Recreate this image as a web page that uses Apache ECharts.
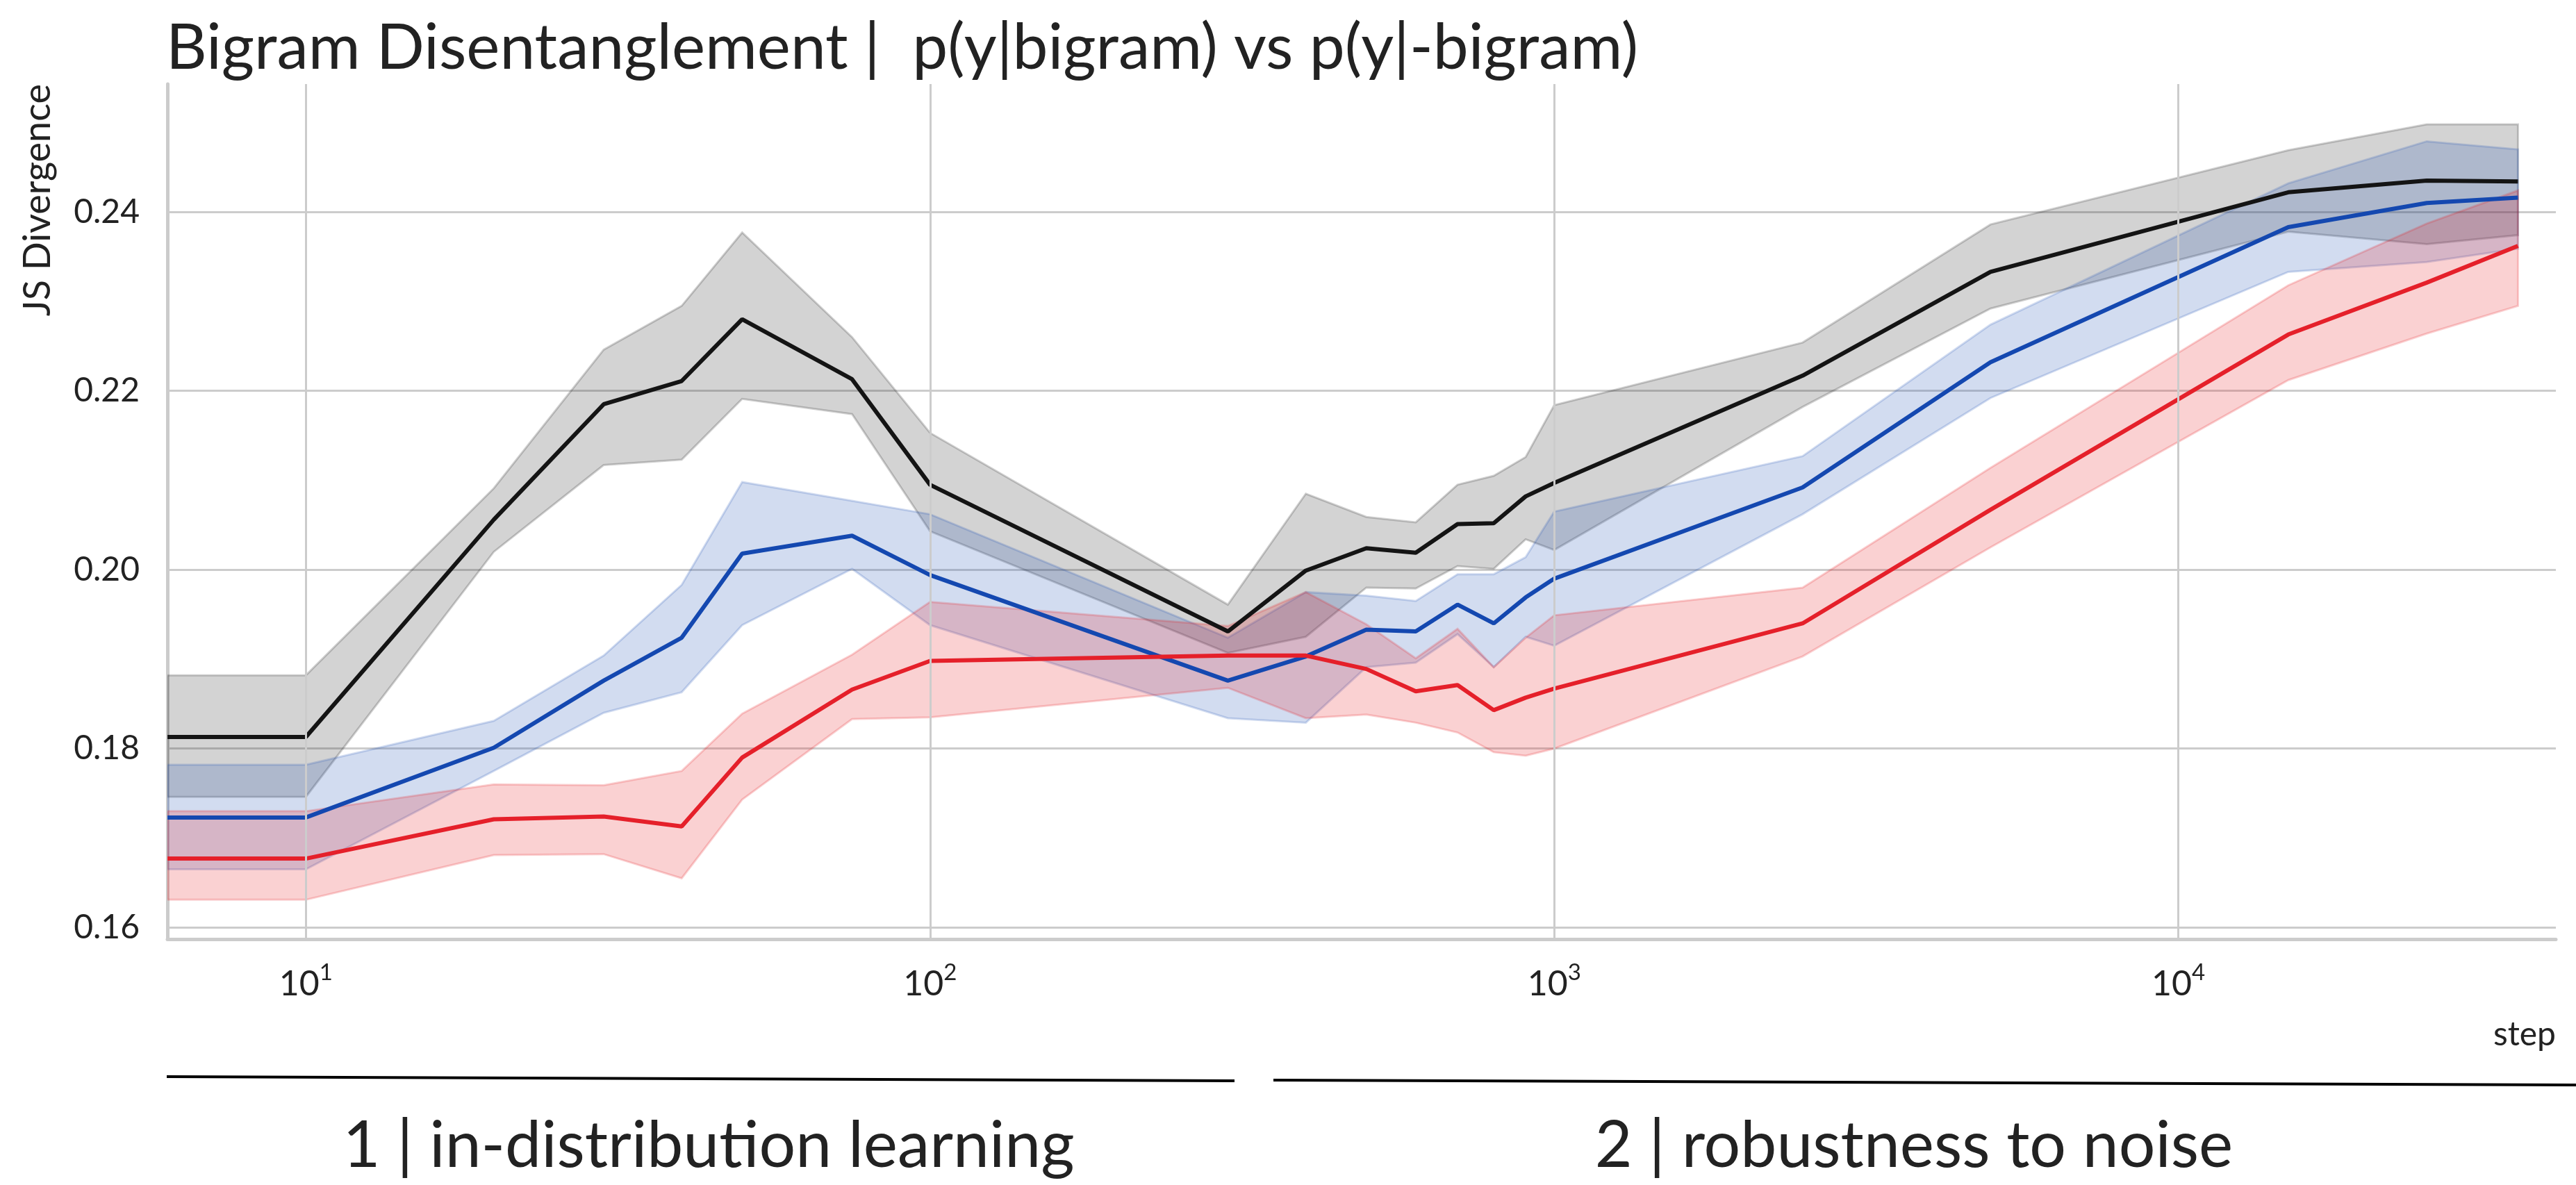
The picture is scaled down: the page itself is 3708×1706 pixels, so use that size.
<!DOCTYPE html>
<html>
<head>
<meta charset="utf-8">
<script src="https://cdn.jsdelivr.net/npm/echarts@6/dist/echarts.min.js"></script>
<style>
html,body{margin:0;padding:0;background:#fff;}
#chart{width:3708px;height:1706px;}
</style>
</head>
<body>
<div id="chart"></div>
<script>
// ---- data ----
const steps = [6, 10, 20, 30, 40, 50, 75, 100, 300, 400, 500, 600, 700, 800, 900, 1000, 2500, 5000, 15000, 25000, 35000];

const blackMean = [0.1813, 0.1813, 0.2056, 0.2185, 0.2211, 0.2280, 0.2213, 0.2095, 0.1931, 0.1999, 0.2024, 0.2019, 0.2051, 0.2052, 0.2082, 0.2097, 0.2217, 0.2333, 0.2422, 0.2435, 0.2434];
const blackLo   = [0.1746, 0.1746, 0.2020, 0.2117, 0.2123, 0.2191, 0.2174, 0.2043, 0.1907, 0.1925, 0.1980, 0.1979, 0.2004, 0.2001, 0.2034, 0.2022, 0.2182, 0.2292, 0.2378, 0.2364, 0.2374];
const blackHi   = [0.1882, 0.1882, 0.2091, 0.2246, 0.2295, 0.2377, 0.2260, 0.2153, 0.1961, 0.2085, 0.2059, 0.2053, 0.2095, 0.2105, 0.2126, 0.2184, 0.2254, 0.2386, 0.2469, 0.2498, 0.2498];

const blueMean = [0.1723, 0.1723, 0.1801, 0.1876, 0.1924, 0.2018, 0.2038, 0.1994, 0.1876, 0.1903, 0.1933, 0.1931, 0.1961, 0.1940, 0.1969, 0.1990, 0.2092, 0.2232, 0.2383, 0.2410, 0.2416];
const blueLo   = [0.1665, 0.1665, 0.1775, 0.1840, 0.1863, 0.1938, 0.2001, 0.1938, 0.1834, 0.1829, 0.1891, 0.1896, 0.1928, 0.1891, 0.1925, 0.1915, 0.2062, 0.2192, 0.2333, 0.2344, 0.2359];
const blueHi   = [0.1782, 0.1782, 0.1831, 0.1904, 0.1983, 0.2098, 0.2077, 0.2062, 0.1924, 0.1975, 0.1971, 0.1965, 0.1995, 0.1995, 0.2014, 0.2065, 0.2127, 0.2274, 0.2432, 0.2479, 0.2470];

const redMean = [0.1677, 0.1677, 0.1721, 0.1724, 0.1713, 0.1790, 0.1866, 0.1898, 0.1904, 0.1904, 0.1889, 0.1864, 0.1871, 0.1843, 0.1857, 0.1867, 0.1940, 0.2067, 0.2263, 0.2321, 0.2362];
const redLo   = [0.1631, 0.1631, 0.1681, 0.1682, 0.1655, 0.1743, 0.1833, 0.1835, 0.1868, 0.1834, 0.1838, 0.1829, 0.1818, 0.1796, 0.1792, 0.1800, 0.1903, 0.2025, 0.2212, 0.2264, 0.2295];
const redHi   = [0.1730, 0.1730, 0.1760, 0.1759, 0.1775, 0.1839, 0.1905, 0.1964, 0.1937, 0.1975, 0.1939, 0.1901, 0.1934, 0.1891, 0.1924, 0.1949, 0.1980, 0.2114, 0.2318, 0.2387, 0.2424];

const xDecades = [10, 100, 1000, 10000];
const titleText = 'Bigram Disentanglement |  p(y|bigram) vs p(y|-bigram)';
const yName = 'JS Divergence';
const xName = 'step';
const phase1 = '1 | in-distribution learning';
const phase2 = '2 | robustness to noise';

// ---- chart ----
const FONT = 'Lato';
const chart = echarts.init(document.getElementById('chart'), null, {renderer: 'canvas'});

function band(lo, hi, rgb, alpha) {
  return {
    type: 'custom',
    coordinateSystem: 'cartesian2d',
    clip: true,
    silent: true,
    z: 1,
    data: steps.map((s, i) => [s, lo[i], hi[i]]),
    encode: {x: 0, y: [1, 2]},
    renderItem: function (params, api) {
      if (params.dataIndex !== 0) return null;
      const top = [], bot = [];
      for (let i = 0; i < steps.length; i++) {
        top.push(api.coord([steps[i], hi[i]]));
        bot.push(api.coord([steps[i], lo[i]]));
      }
      return {
        type: 'polygon',
        shape: {points: top.concat(bot.reverse())},
        style: {fill: 'rgba(' + rgb + ',' + alpha + ')', stroke: 'rgba(' + rgb + ',0.2)', lineWidth: 3}
      };
    }
  };
}

function meanLine(vals, color) {
  return {
    type: 'line',
    data: steps.map((s, i) => [s, vals[i]]),
    showSymbol: false,
    symbol: 'none',
    silent: true,
    z: 3,
    lineStyle: {color: color, width: 6},
    itemStyle: {color: color}
  };
}

const option = {
  animation: false,
  backgroundColor: '#ffffff',
  grid: {left: 241, right: 29, top: 121, bottom: 354, containLabel: false},
  xAxis: {
    type: 'log',
    logBase: 10,
    min: 6,
    max: 40250,
    axisLine: {show: true, lineStyle: {color: '#cccccc', width: 5}},
    axisTick: {show: false},
    splitLine: {show: false},
    axisLabel: {
      margin: 32,
      showMinLabel: false,
      showMaxLabel: false,
      formatter: function (v) {
        const l = Math.log10(v);
        const e = Math.round(l);
        if (Math.abs(l - e) < 1e-6) return '{b|10}{s|' + e + '}';
        return '';
      },
      rich: {
        b: {fontSize: 50, fontFamily: FONT, color: '#222222', lineHeight: 58, verticalAlign: 'bottom'},
        s: {fontSize: 33, fontFamily: FONT, color: '#222222', lineHeight: 33, verticalAlign: 'top'}
      }
    }
  },
  yAxis: {
    type: 'value',
    min: 0.1587,
    max: 0.2543,
    axisLine: {show: true, lineStyle: {color: '#cccccc', width: 5}},
    axisTick: {show: false},
    splitLine: {show: true, showMinLine: false, showMaxLine: false, lineStyle: {color: '#cccccc', width: 3}},
    axisLabel: {
      margin: 40,
      showMinLabel: false,
      showMaxLabel: false,
      fontSize: 48,
      fontFamily: FONT,
      color: '#222222',
      formatter: function (v) { return v.toFixed(2); }
    }
  },
  series: [
    {
      type: 'line',
      data: [],
      silent: true,
      z: 0,
      markLine: {
        silent: true,
        symbol: ['none', 'none'],
        label: {show: false},
        animation: false,
        lineStyle: {color: '#cccccc', width: 3, type: 'solid'},
        emphasis: {disabled: true},
        data: xDecades.map(d => ({xAxis: d}))
      }
    },
    band(blackLo, blackHi, '20,20,20', 0.19),
    band(blueLo, blueHi, '31,79,180', 0.2),
    band(redLo, redHi, '228,26,28', 0.2),
    meanLine(blackMean, '#141414'),
    meanLine(blueMean, '#1448b0'),
    meanLine(redMean, '#e5202a')
  ],
  graphic: [
    {type: 'text', x: 239, y: 70, style: {text: titleText, fontSize: 91, fontFamily: FONT, fill: '#222222', align: 'left', verticalAlign: 'middle'}},
    {type: 'text', x: 55, y: 121, rotation: Math.PI / 2, style: {text: yName, fontSize: 54, fontFamily: FONT, fill: '#222222', align: 'right', verticalAlign: 'middle'}},
    {type: 'text', x: 3679, y: 1490, style: {text: xName, fontSize: 48, fontFamily: FONT, fill: '#222222', align: 'right', verticalAlign: 'middle'}},
    {type: 'line', shape: {x1: 240, y1: 1550, x2: 1777, y2: 1556}, style: {stroke: '#000000', lineWidth: 4}},
    {type: 'line', shape: {x1: 1833, y1: 1555, x2: 3708, y2: 1562}, style: {stroke: '#000000', lineWidth: 4}},
    {type: 'text', x: 1020, y: 1650, style: {text: phase1, fontSize: 93, fontFamily: FONT, fill: '#222222', align: 'center', verticalAlign: 'middle'}},
    {type: 'text', x: 2755, y: 1650, style: {text: phase2, fontSize: 93, fontFamily: FONT, fill: '#222222', align: 'center', verticalAlign: 'middle'}}
  ]
};
chart.setOption(option);
</script>
</body>
</html>
